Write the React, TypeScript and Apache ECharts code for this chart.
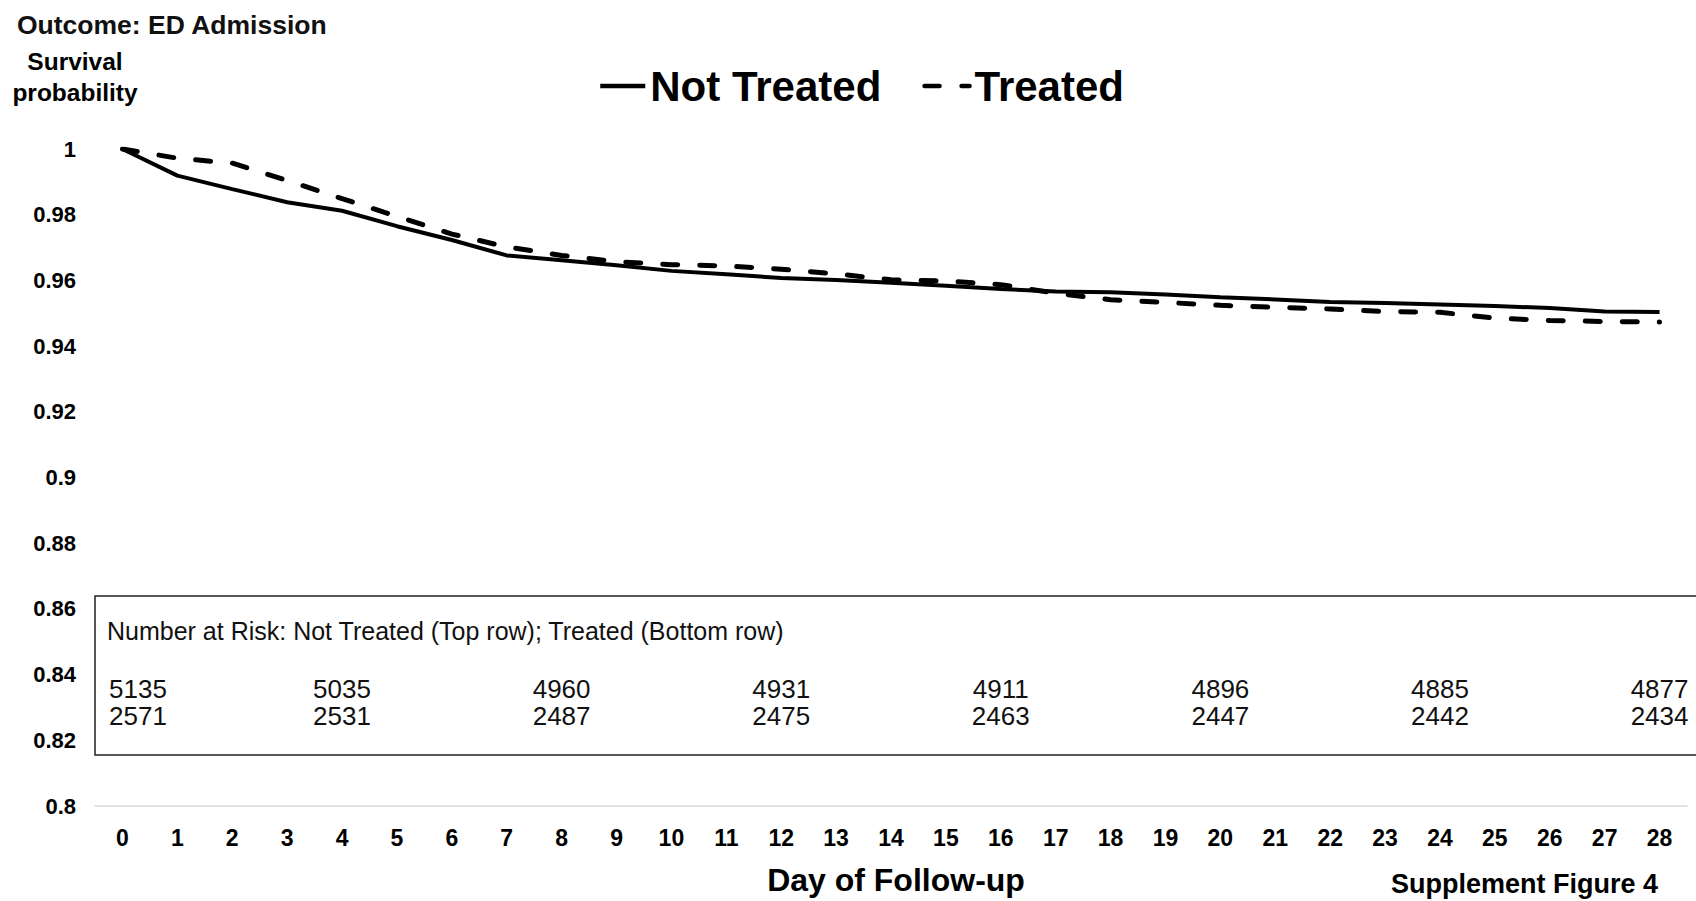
import React, { useEffect, useRef } from "react";
import * as echarts from "echarts";

const days = Array.from({ length: 29 }, (_, i) => String(i));
const notTreated = [1.0, 0.9919, 0.9878, 0.9838, 0.9812, 0.9765, 0.9723, 0.9676, 0.9661, 0.9646, 0.9629, 0.9619, 0.9607, 0.9601, 0.9593, 0.9584, 0.9574, 0.9566, 0.9564, 0.9557, 0.9549, 0.9542, 0.9534, 0.9531, 0.9527, 0.9522, 0.9516, 0.9505, 0.9504];
const treated = [1.0, 0.9972, 0.9957, 0.9904, 0.9849, 0.9795, 0.9741, 0.9702, 0.9676, 0.9657, 0.9648, 0.9644, 0.9634, 0.962, 0.9602, 0.9598, 0.9587, 0.9561, 0.9541, 0.9533, 0.9524, 0.9518, 0.9513, 0.9505, 0.9503, 0.9485, 0.9478, 0.9475, 0.9473];
const riskDays = [0, 4, 8, 12, 16, 20, 24, 28];
const riskNotTreated = [5135, 5035, 4960, 4931, 4911, 4896, 4885, 4877];
const riskTreated = [2571, 2531, 2487, 2475, 2463, 2447, 2442, 2434];

const FONT = "'Liberation Sans', Arial, Helvetica, sans-serif";

export default function App() {
  const ref = useRef<HTMLDivElement>(null);
  useEffect(() => {
    if (!ref.current) return;
    const chart = echarts.init(ref.current, null, { renderer: "svg" });
    const gridLeft = 95;
    const gridTop = 149;
    const gridBottom = 95;
    chart.setOption({
      animation: false,
      backgroundColor: "#ffffff",
      textStyle: { fontFamily: FONT },
      title: {
        text: "Outcome: ED Admission",
        left: 12,
        top: 6,
        textStyle: { fontFamily: FONT, fontSize: 26.5, fontWeight: "bold", color: "#111" },
      },
      legend: {
        data: ["Not Treated", "Treated"],
        left: 593,
        top: 58,
        itemWidth: 45,
        itemHeight: 14,
        itemGap: 41,
        itemStyle: { opacity: 0, borderWidth: 0 },
        lineStyle: { width: 4.5 },
        textStyle: { fontFamily: FONT, fontSize: 42, fontWeight: "bold", color: "#000", lineHeight: 46 },
      },
      grid: { left: gridLeft, right: 9, top: gridTop, bottom: gridBottom, containLabel: false },
      xAxis: {
        type: "category",
        data: days,
        boundaryGap: true,
        axisLine: { show: true, lineStyle: { color: "#d9d9d9", width: 1.5 } },
        axisTick: { show: false },
        axisLabel: { fontFamily: FONT, fontSize: 23, fontWeight: "bold", color: "#000", margin: 20, interval: 0 },
        name: "Day of Follow-up",
        nameLocation: "middle",
        nameGap: 58,
        nameTextStyle: { fontFamily: FONT, fontSize: 32, fontWeight: "bold", color: "#000", padding: [0, 0, 0, 10] },
      },
      yAxis: {
        type: "value",
        min: 0.8,
        max: 1,
        interval: 0.02,
        axisLine: { show: false },
        axisTick: { show: false },
        splitLine: { show: false },
        axisLabel: {
          fontFamily: FONT,
          fontSize: 22,
          fontWeight: "bold",
          color: "#000",
          margin: 19,
          formatter: (v: number) => String(Math.round(v * 100) / 100),
        },
        name: "Survival\nprobability",
        nameLocation: "end",
        nameGap: 41,
        nameTextStyle: {
          fontFamily: FONT,
          fontSize: 24.5,
          fontWeight: "bold",
          color: "#000",
          align: "center",
          verticalAlign: "bottom",
          lineHeight: 31,
          padding: [0, 40, 0, 0],
        },
      },
      series: [
        {
          name: "Not Treated",
          type: "line",
          data: notTreated,
          symbol: "none",
          lineStyle: { color: "#000", width: 4, type: "solid" },
          itemStyle: { color: "#000" },
        },
        {
          name: "Treated",
          type: "line",
          data: treated,
          symbol: "none",
          lineStyle: { color: "#000", width: 5, type: [15, 22], cap: "round" },
          itemStyle: { color: "#000" },
        },
      ],
    });

    const boxX = gridLeft;
    const boxY = 596;
    const boxH = 159;
    const graphics: any[] = [
      {
        type: "rect",
        shape: { x: boxX, y: boxY, width: 1700, height: boxH },
        style: { fill: "#fff", stroke: "#222", lineWidth: 1.5 },
        z: 10,
      },
      {
        type: "text",
        x: boxX + 12,
        y: 631,
        style: {
          text: "Number at Risk: Not Treated (Top row); Treated (Bottom row)",
          font: `25px ${FONT}`,
          fill: "#111",
          verticalAlign: "middle",
          align: "left",
        },
        z: 11,
      },
      {
        type: "text",
        x: 1658,
        y: 884,
        style: {
          text: "Supplement Figure 4",
          font: `bold 27px ${FONT}`,
          fill: "#000",
          verticalAlign: "middle",
          align: "right",
        },
        z: 11,
      },
    ];
    riskDays.forEach((d, i) => {
      const px = chart.convertToPixel({ xAxisIndex: 0 }, String(d)) as number;
      const first = i === 0;
      const x = first ? boxX + 14 : px;
      const align = first ? "left" : "center";
      graphics.push({
        type: "text",
        x,
        y: 689,
        style: { text: String(riskNotTreated[i]), font: `26px ${FONT}`, fill: "#111", align, verticalAlign: "middle" },
        z: 11,
      });
      graphics.push({
        type: "text",
        x,
        y: 716,
        style: { text: String(riskTreated[i]), font: `26px ${FONT}`, fill: "#111", align, verticalAlign: "middle" },
        z: 11,
      });
    });
    chart.setOption({ graphic: graphics });

    return () => chart.dispose();
  }, []);

  return (
    <div
      ref={ref}
      style={{ position: "absolute", left: 0, top: 0, width: "1696px", height: "901px", background: "#fff" }}
    />
  );
}
